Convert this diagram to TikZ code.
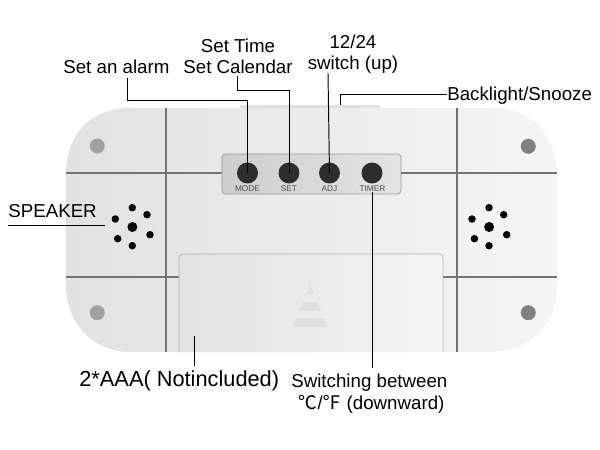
\documentclass[tikz,border=0pt]{standalone}
\usepackage{fontspec}
\setmainfont{Liberation Sans}
\newfontfamily\cjk{Noto Sans CJK SC}
\usetikzlibrary{positioning,shapes}
\definecolor{bodyleft}{RGB}{226,226,226}
\definecolor{bodyright}{RGB}{245,245,245}
\definecolor{seam}{RGB}{115,115,115}
\definecolor{padleft}{RGB}{205,205,205}
\definecolor{padright}{RGB}{228,228,228}
\definecolor{keyblack}{RGB}{45,45,45}
\tikzstyle{leader} = [black,line width=0.55pt]
\tikzstyle{seamline} = [seam,line width=0.7pt]
\tikzstyle{label} = [inner sep=0pt,font=\fontsize{10.65pt}{12pt}\selectfont,align=center]
\tikzstyle{keybtn} = [circle,minimum size=0.42cm,inner sep=0pt,fill=keyblack]
\tikzstyle{keytext} = [inner sep=0pt,text=black!70,font=\fontsize{4.7pt}{5pt}\selectfont]
\tikzstyle{holebig} = [circle,minimum size=0.2cm,inner sep=0pt,fill=black]
\tikzstyle{hole} = [circle,minimum size=0.15cm,inner sep=0pt,fill=black]
\tikzstyle{screwhole} = [circle,minimum size=0.3cm,inner sep=0pt]
\tikzstyle{arrowmark} = [fill=black!12,draw=none]
\begin{document}
\begin{tikzpicture}[x=0.02cm,y=-0.02cm]
\useasboundingbox (0,0) rectangle (600,450);
% Top switch strip
\fill[black!12] (240,105) rectangle (380,111);
% Body of the clock
\shade[left color=bodyleft,right color=bodyright] (66,175) .. controls (66,135) and (90,108) .. (130,108) -- (495,108) .. controls (530,108) and (557,135) .. (557,175) -- (557,285) .. controls (557,325) and (530,352) .. (490,352) -- (130,352) .. controls (95,352) and (66,325) .. (66,285) -- cycle;
% Seams
\draw[seamline] (166,108) -- (166,352);
\draw[seamline] (457,108) -- (457,352);
\draw[seamline] (66,173) -- (222,173);
\draw[seamline] (401,173) -- (557,173);
\draw[seamline] (66,277) -- (179,277);
\draw[seamline] (443,277) -- (557,277);
% Battery cover
\shade[left color=bodyleft,right color=bodyright,draw=black!30,rounded corners=2pt] (179,352) -- (179,254) -- (443,254) -- (443,352);
\fill[arrowmark] (310,283) -- (314,294) -- (306,294) -- cycle;
\fill[arrowmark] (303,302) -- (317,302) -- (321,311) -- (299,311) -- cycle;
\fill[arrowmark] (296,318) -- (324,318) -- (327,327) -- (293,327) -- cycle;
% Button panel
\shade[left color=padleft,right color=padright,draw=black!40,rounded corners=2pt] (222,154) rectangle (401,194);
\node (mode) [keybtn] at (247.5,173) {};
\node (set) [keybtn] at (289,173) {};
\node (adj) [keybtn] at (329.5,173) {};
\node (timer) [keybtn] at (372,173) {};
\node (modetext) [keytext] at (247.5,188.5) {MODE};
\node (settext) [keytext] at (289,188.5) {SET};
\node (adjtext) [keytext] at (329.5,188.5) {ADJ};
\node (timertext) [keytext] at (372.5,188.5) {TIMER};
% Screws
\node (screwa) [screwhole,fill=black!37] at (97.3,146) {};
\node (screwb) [screwhole,fill=black!37] at (97.3,312.7) {};
\node (screwc) [screwhole,fill=black!50] at (528.3,146.3) {};
\node (screwd) [screwhole,fill=black!50] at (528.3,312.7) {};
% Speakers
\foreach \side/\dx in {left/0,right/356.7} {
  \node (\side mid) [holebig] at (132.4+\dx,227) {};
  \foreach \hx/\hy [count=\n] in {132.3/207.7,147/214.7,115.3/219,150/234.7,117.7/238.7,132.3/245.7}
    \node (\side hole\n) [hole] at (\hx+\dx,\hy) {};
}
% Labels
\node (alarm) [label,anchor=base west] at (63,73) {Set an alarm};
\node (settime) [label,anchor=base] at (238,52.5) {Set Time};
\node (setcal) [label,anchor=base] at (238,73) {Set Calendar};
\node (twelve) [label,anchor=base] at (353,48) {12/24};
\node (switchup) [label,anchor=base] at (353,69) {switch (up)};
\node (backlight) [label,anchor=base west] at (447,100) {Backlight/Snooze};
\node (speaker) [label,anchor=base west] at (8,217) {SPEAKER};
\node (battery) [label,anchor=base west,font=\fontsize{12.4pt}{14pt}\selectfont] at (79,386) {2*AAA( Notincluded)};
\node (switching) [label,anchor=base west] at (291,387) {Switching between};
\node (degrees) [label,anchor=base west] at (298.5,409) {{\cjk ℃}/{\cjk ℉} (downward)};
% Leader ends
\coordinate (alarmend) at (127,78);
\coordinate (timeend) at (237.5,76);
\coordinate (switchend) at (328,73);
\coordinate (stripend) at (340.7,105);
\coordinate (speakerend) at (8,225.3);
\coordinate (speakertip) at (105,225.3);
\coordinate (coverend) at (194.3,336);
\coordinate (batteryend) at (194.3,366);
\coordinate (timerend) at (372,368);
% Leaders
\draw[leader] (alarmend) -- (127,100.5) -| (mode.center);
\draw[leader] (timeend) -- (237.5,90.7) -| (set.center);
\draw[leader] (switchend) -- (adj.center);
\draw[leader] (backlight.west |- 0,94) -| (stripend);
\draw[leader] (speakerend) -- (speakertip);
\draw[leader] (coverend) -- (batteryend);
\draw[leader] (timertext.south -| timer) -- (timerend);
\end{tikzpicture}
\end{document}
